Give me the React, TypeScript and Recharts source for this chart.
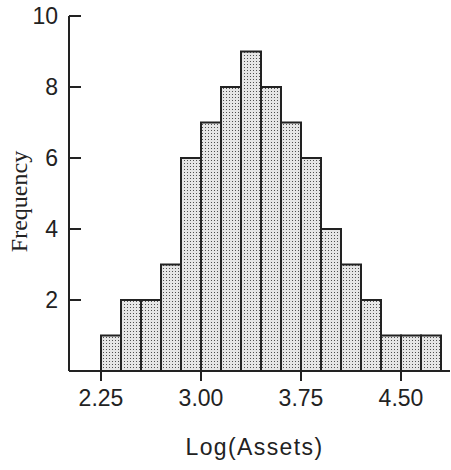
import React from 'react';
import { BarChart, Bar, XAxis, YAxis } from 'recharts';

// histogram bins (lower edge of each bin, width 0.15)
const binStarts = [2.25, 2.4, 2.55, 2.7, 2.85, 3.0, 3.15, 3.3, 3.45, 3.6, 3.75, 3.9, 4.05, 4.2, 4.35, 4.5, 4.65];
const frequencies = [1, 2, 2, 3, 6, 7, 8, 9, 8, 7, 6, 4, 3, 2, 1, 1, 1];
const binWidth = 0.15;

const xTicks = [2.25, 3.0, 3.75, 4.5];
const yTicks = [2, 4, 6, 8, 10];

const data = binStarts.map((start, i) => ({
  mid: start + binWidth / 2,
  count: frequencies[i],
}));

if (typeof document !== 'undefined') document.body.style.margin = '0';

const ink = '#222';
const sans = '"Liberation Sans", Arial, sans-serif';

function YTick(props: any) {
  const { x, y, payload } = props;
  return (
    <g>
      <line x1={x + 11} x2={x + 23} y1={y} y2={y} stroke={ink} strokeWidth={2} />
      <text x={x} y={y} dy="0.36em" textAnchor="end" fontFamily={sans} fontSize={23} fill={ink}>
        {payload.value}
      </text>
    </g>
  );
}

function YLabel(props: any) {
  const { viewBox } = props;
  const cx = viewBox.x + 19;
  const cy = viewBox.y + viewBox.height / 2 + 8;
  return (
    <text
      x={cx}
      y={cy}
      transform={`rotate(-90 ${cx} ${cy})`}
      textAnchor="middle"
      dominantBaseline="central"
      fontFamily='"Liberation Serif", "Times New Roman", serif'
      fontSize={24}
      fill={ink}
    >
      Frequency
    </text>
  );
}

function XLabel(props: any) {
  const { viewBox } = props;
  return (
    <text
      x={viewBox.x + viewBox.width / 2 - 5}
      y={455}
      textAnchor="middle"
      fontFamily={sans}
      fontSize={23}
      letterSpacing={1.4}
      fill={ink}
    >
      Log(Assets)
    </text>
  );
}

export default function App() {
  return (
    <BarChart
      width={451}
      height={470}
      data={data}
      margin={{ top: 16, right: 1, left: 0, bottom: 0 }}
      barCategoryGap={0}
      barGap={0}
    >
      <defs>
        <pattern id="dots" width={3} height={3} patternUnits="userSpaceOnUse">
          <rect width={3} height={3} fill="#e6e6e6" />
          <rect x={1} y={1} width={1} height={1} fill="#505050" />
        </pattern>
      </defs>
      <XAxis
        dataKey="mid"
        type="number"
        domain={[2.01, 4.8675]}
        allowDataOverflow
        ticks={xTicks}
        tickFormatter={(v: number) => v.toFixed(2)}
        height={99}
        tickSize={10}
        tickMargin={9}
        axisLine={{ stroke: ink, strokeWidth: 2 }}
        tickLine={{ stroke: ink, strokeWidth: 2 }}
        tick={{ fill: ink, fontSize: 23, fontFamily: sans }}
        label={<XLabel />}
      />
      <YAxis
        domain={[0, 10]}
        ticks={yTicks}
        width={69}
        tickSize={0}
        tickMargin={11}
        axisLine={{ stroke: ink, strokeWidth: 2 }}
        tickLine={false}
        tick={<YTick />}
        label={<YLabel />}
      />
      <Bar
        dataKey="count"
        fill="url(#dots)"
        stroke={ink}
        strokeWidth={2}
        isAnimationActive={false}
      />
    </BarChart>
  );
}
